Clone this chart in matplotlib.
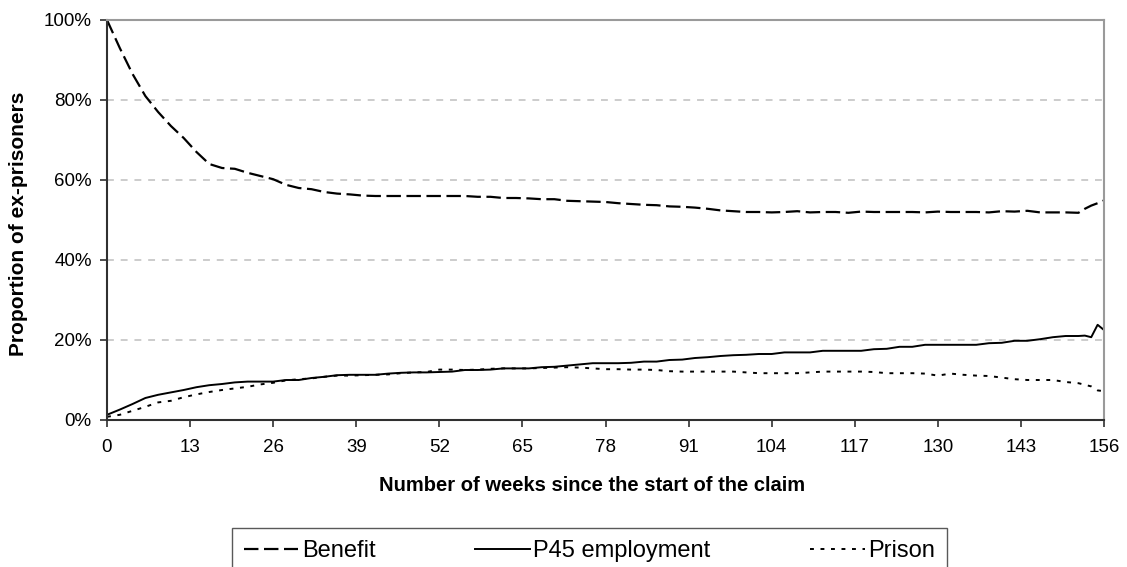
import matplotlib
matplotlib.use("Agg")
import matplotlib.pyplot as plt

plt.rcParams['font.family'] = ['Liberation Sans', 'DejaVu Sans']

# weeks since start of claim (every 2 weeks, weekly at the very end)
weeks = list(range(0, 153, 2)) + [153, 154, 155, 156]

# share of ex-prisoners in each state, percent
benefit = [100, 93, 86.5, 81, 77, 73.5, 70.5, 67, 64, 63,
           62.8, 61.8, 61, 60.2, 58.8, 58, 57.7, 57, 56.6, 56.4,
           56.1, 56, 56, 56, 56, 56, 56, 56, 56, 55.8,
           55.8, 55.5, 55.5, 55.4, 55.2, 55.2, 54.8, 54.7, 54.6, 54.5,
           54.2, 54, 53.8, 53.7, 53.4, 53.3, 53.1, 52.8, 52.4, 52.2,
           52, 52, 51.9, 52, 52.2, 51.9, 52, 52, 51.8, 52.1,
           52, 52, 52, 52, 51.9, 52.1, 52, 52, 52, 51.9,
           52.2, 52.1, 52.3, 51.9, 51.9, 51.9, 51.8,
           52.8, 53.6, 54.2, 54.9]
p45 = [1.3, 2.6, 4, 5.5, 6.3, 6.9, 7.5, 8.2, 8.7, 9,
       9.4, 9.6, 9.6, 9.6, 10, 10, 10.5, 10.8, 11.2, 11.3,
       11.3, 11.3, 11.6, 11.8, 11.9, 11.9, 12, 12.1, 12.5, 12.5,
       12.6, 12.9, 12.9, 12.9, 13.2, 13.3, 13.6, 13.9, 14.2, 14.2,
       14.2, 14.3, 14.6, 14.6, 15, 15.1, 15.5, 15.7, 16, 16.2,
       16.3, 16.5, 16.5, 16.9, 16.9, 16.9, 17.3, 17.3, 17.3, 17.3,
       17.7, 17.8, 18.3, 18.3, 18.8, 18.8, 18.8, 18.8, 18.8, 19.2,
       19.3, 19.8, 19.8, 20.2, 20.7, 21, 21,
       21.1, 20.7, 23.8, 22.5]
prison = [0.8, 1.3, 2.3, 3.3, 4.4, 4.8, 5.7, 6.4, 7, 7.5,
          7.9, 8.3, 8.9, 9.3, 9.9, 10.2, 10.4, 10.8, 11.1, 11.1,
          11.2, 11.3, 11.4, 11.7, 11.9, 12, 12.6, 12.6, 12.5, 12.6,
          12.8, 12.9, 12.9, 12.9, 13, 13.1, 13.2, 13.1, 12.9, 12.7,
          12.7, 12.6, 12.6, 12.5, 12.2, 12.1, 12.1, 12.1, 12.1, 12.1,
          11.9, 11.7, 11.7, 11.7, 11.7, 11.9, 12.1, 12.1, 12.1, 12.1,
          12, 11.7, 11.7, 11.7, 11.6, 11.1, 11.6, 11.3, 11.1, 11,
          10.6, 10.2, 10, 10, 10, 9.5, 9.2,
          8.8, 8.4, 7.4, 7.2]

xticks = list(range(0, 157, 13))
yticks = [0, 20, 40, 60, 80, 100]

fig = plt.figure(figsize=(11.27, 5.67), dpi=100)
ax = fig.add_axes([107 / 1127, 1 - 420 / 567, 997 / 1127, 400 / 567])

for y in yticks[1:-1]:
    ax.axhline(y, color='#c8c8c8', lw=1.3, dashes=(3.8, 3.8), zorder=0)

ax.plot(weeks, benefit, color='black', lw=1.6, dashes=(6.5, 2.5), label='Benefit')
ax.plot(weeks, p45, color='black', lw=1.4, label='P45 employment')
ax.plot(weeks, prison, color='black', lw=1.4, dashes=(2.0, 3.4), label='Prison')

ax.set_xlim(0, 156)
ax.set_ylim(0, 100)
ax.set_xticks(xticks)
ax.set_yticks(yticks)
ax.set_yticklabels([f"{v}%" for v in yticks])
ax.tick_params(axis='both', direction='out', length=5, width=1.3, labelsize=13.5, color='#404040')
ax.tick_params(axis='y', pad=6)
ax.tick_params(axis='x', pad=9)

for side in ['left', 'bottom']:
    ax.spines[side].set_color('#303030')
    ax.spines[side].set_linewidth(1.5)
for side in ['top', 'right']:
    ax.spines[side].set_color('#9a9a9a')
    ax.spines[side].set_linewidth(1.5)

ax.set_xlabel('Number of weeks since the start of the claim', fontsize=14.5, fontweight='bold')
ax.xaxis.set_label_coords(0.487, -0.14)
ax.set_ylabel('Proportion of ex-prisoners', fontsize=15, fontweight='bold')
ax.yaxis.set_label_coords(-0.079, 0.491)

# legend box spans a fixed strip below the axis title, entries spread across it
leg = fig.legend(loc='upper left', bbox_to_anchor=(232 / 1127, 1 - 528 / 567 - 0.1, 715 / 1127, 0.1),
                 mode='expand', ncol=3, fontsize=17, frameon=True, fancybox=False, borderaxespad=0,
                 handlelength=2.3, handletextpad=0.15, borderpad=0.5)
leg.get_frame().set_edgecolor('#303030')
leg.get_frame().set_linewidth(1.0)

fig.savefig('out.png', dpi=100)
